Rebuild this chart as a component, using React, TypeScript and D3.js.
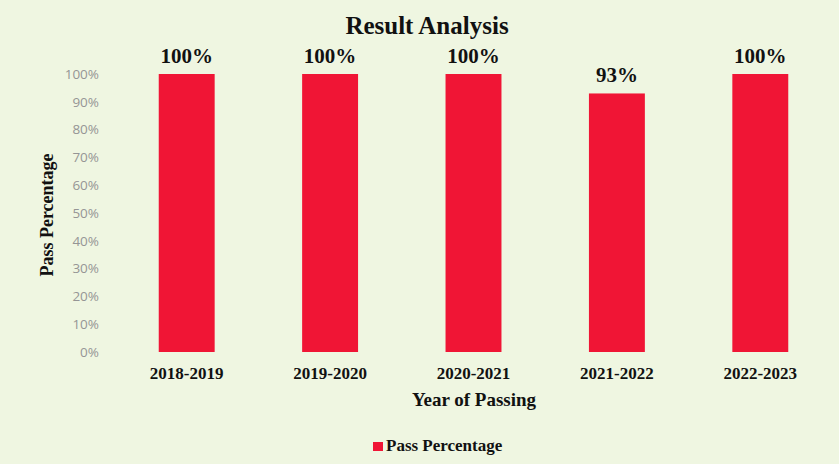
import React from "react";
import * as d3 from "d3";

const categories = ["2018-2019", "2019-2020", "2020-2021", "2021-2022", "2022-2023"];
const passPercentage = [100, 100, 100, 93, 100];
const yTicks = [0, 10, 20, 30, 40, 50, 60, 70, 80, 90, 100];

const W = 839;
const H = 464;
const serif = "'Liberation Serif', 'Times New Roman', serif";
const sans = "'Open Sans', 'DejaVu Sans', sans-serif";

export default function App() {
  const x = d3.scaleBand<string>().domain(categories).range([115, 832]).paddingInner(0.61).paddingOuter(0.305);
  const y = d3.scaleLinear().domain([0, 100]).range([352, 74]);
  return (
    <svg width={W} height={H} style={{ position: "absolute", left: 0, top: 0, background: "#eff6e1" }}>
      <rect x={0} y={0} width={W} height={H} fill="#eff6e1" />
      <text x={427} y={34} textAnchor="middle" fontFamily={serif} fontWeight="bold" fontSize={25} fill="#111">
        Result Analysis
      </text>
      {yTicks.map((t) => (
        <text key={t} x={99} y={y(t)} dy="0.35em" textAnchor="end" fontFamily={sans} fontSize={13.5} fill="#959595">
          {t}%
        </text>
      ))}
      <text
        transform={`translate(47, 215) rotate(-90)`}
        textAnchor="middle"
        dy="0.35em"
        fontFamily={serif}
        fontWeight="bold"
        fontSize={18}
        fill="#111"
      >
        Pass Percentage
      </text>
      {categories.map((c, i) => (
        <g key={c}>
          <rect x={x(c)} y={y(passPercentage[i])} width={x.bandwidth()} height={y(0) - y(passPercentage[i])} fill="#f01535" />
          <text x={(x(c) as number) + x.bandwidth() / 2} y={y(passPercentage[i]) - 11} textAnchor="middle" fontFamily={serif} fontWeight="bold" fontSize={21} fill="#111">
            {passPercentage[i]}%
          </text>
          <text x={(x(c) as number) + x.bandwidth() / 2} y={379} textAnchor="middle" fontFamily={serif} fontWeight="bold" fontSize={17} fill="#111">
            {c}
          </text>
        </g>
      ))}
      <text x={474} y={406} textAnchor="middle" fontFamily={serif} fontWeight="bold" fontSize={19} fill="#111">
        Year of Passing
      </text>
      <rect x={373} y={442} width={10} height={9} fill="#f01535" />
      <text x={386} y={451} fontFamily={serif} fontWeight="bold" fontSize={17} fill="#111">
        Pass Percentage
      </text>
    </svg>
  );
}
